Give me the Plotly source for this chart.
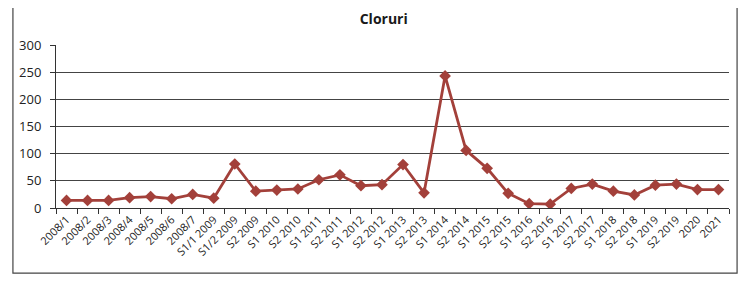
import plotly.graph_objects as go

categories = ["2008/1", "2008/2", "2008/3", "2008/4", "2008/5", "2008/6", "2008/7",
              "S1/1 2009", "S1/2 2009", "S2 2009", "S1 2010", "S2 2010", "S1 2011",
              "S2 2011", "S1 2012", "S2 2012", "S1 2013", "S2 2013", "S1 2014",
              "S2 2014", "S1 2015", "S2 2015", "S1 2016", "S2 2016", "S1 2017",
              "S2 2017", "S1 2018", "S2 2018", "S1 2019", "S2 2019", "2020", "2021"]
cloruri = [14, 14, 14, 19, 21, 17, 25, 18, 81, 31, 33, 35, 52, 61, 41, 43, 80, 28,
           243, 106, 73, 27, 8, 7, 36, 44, 31, 24, 42, 44, 34, 34]
y_ticks = [0, 50, 100, 150, 200, 250, 300]

line_color = "#A3403A"

fig = go.Figure(go.Scatter(
    x=categories, y=cloruri, mode="lines+markers",
    line=dict(color=line_color, width=2.8),
    marker=dict(symbol="diamond", size=9, color=line_color),
))

fig.update_layout(
    width=731, height=266, autosize=False,
    margin=dict(l=48, r=10, t=37, b=66, autoexpand=False),
    paper_bgcolor="white", plot_bgcolor="white",
    font=dict(family="Open Sans, Noto Sans, sans-serif", color="#222222"),
    title=dict(text="<b>Cloruri</b>", x=0.514, xanchor="center", y=0.96, yanchor="middle",
               font=dict(size=14, color="#1a1a1a")),
    showlegend=False,
    shapes=[dict(type="rect", xref="paper", yref="paper",
                 x0=-0.064, x1=1.012, y0=-0.399, y1=1.4,
                 line=dict(color="#444444", width=1.2))],
)
fig.update_xaxes(
    type="category", tickangle=-45, tickfont=dict(size=11),
    showline=True, linecolor="#333333", linewidth=1,
    ticks="outside", ticklen=5, tickcolor="#333333", tickson="boundaries",
    showgrid=False, range=[-0.5, len(categories) - 0.5], automargin=False,
)
fig.update_yaxes(
    range=[0, 300], tickvals=y_ticks, tickfont=dict(size=13),
    showline=True, linecolor="#333333", linewidth=1,
    ticks="outside", ticklen=5, tickcolor="#333333", ticklabelstandoff=6,
    showgrid=True, gridcolor="#444444", gridwidth=1.2, zeroline=False, automargin=False,
)

fig.write_html("out.html")
